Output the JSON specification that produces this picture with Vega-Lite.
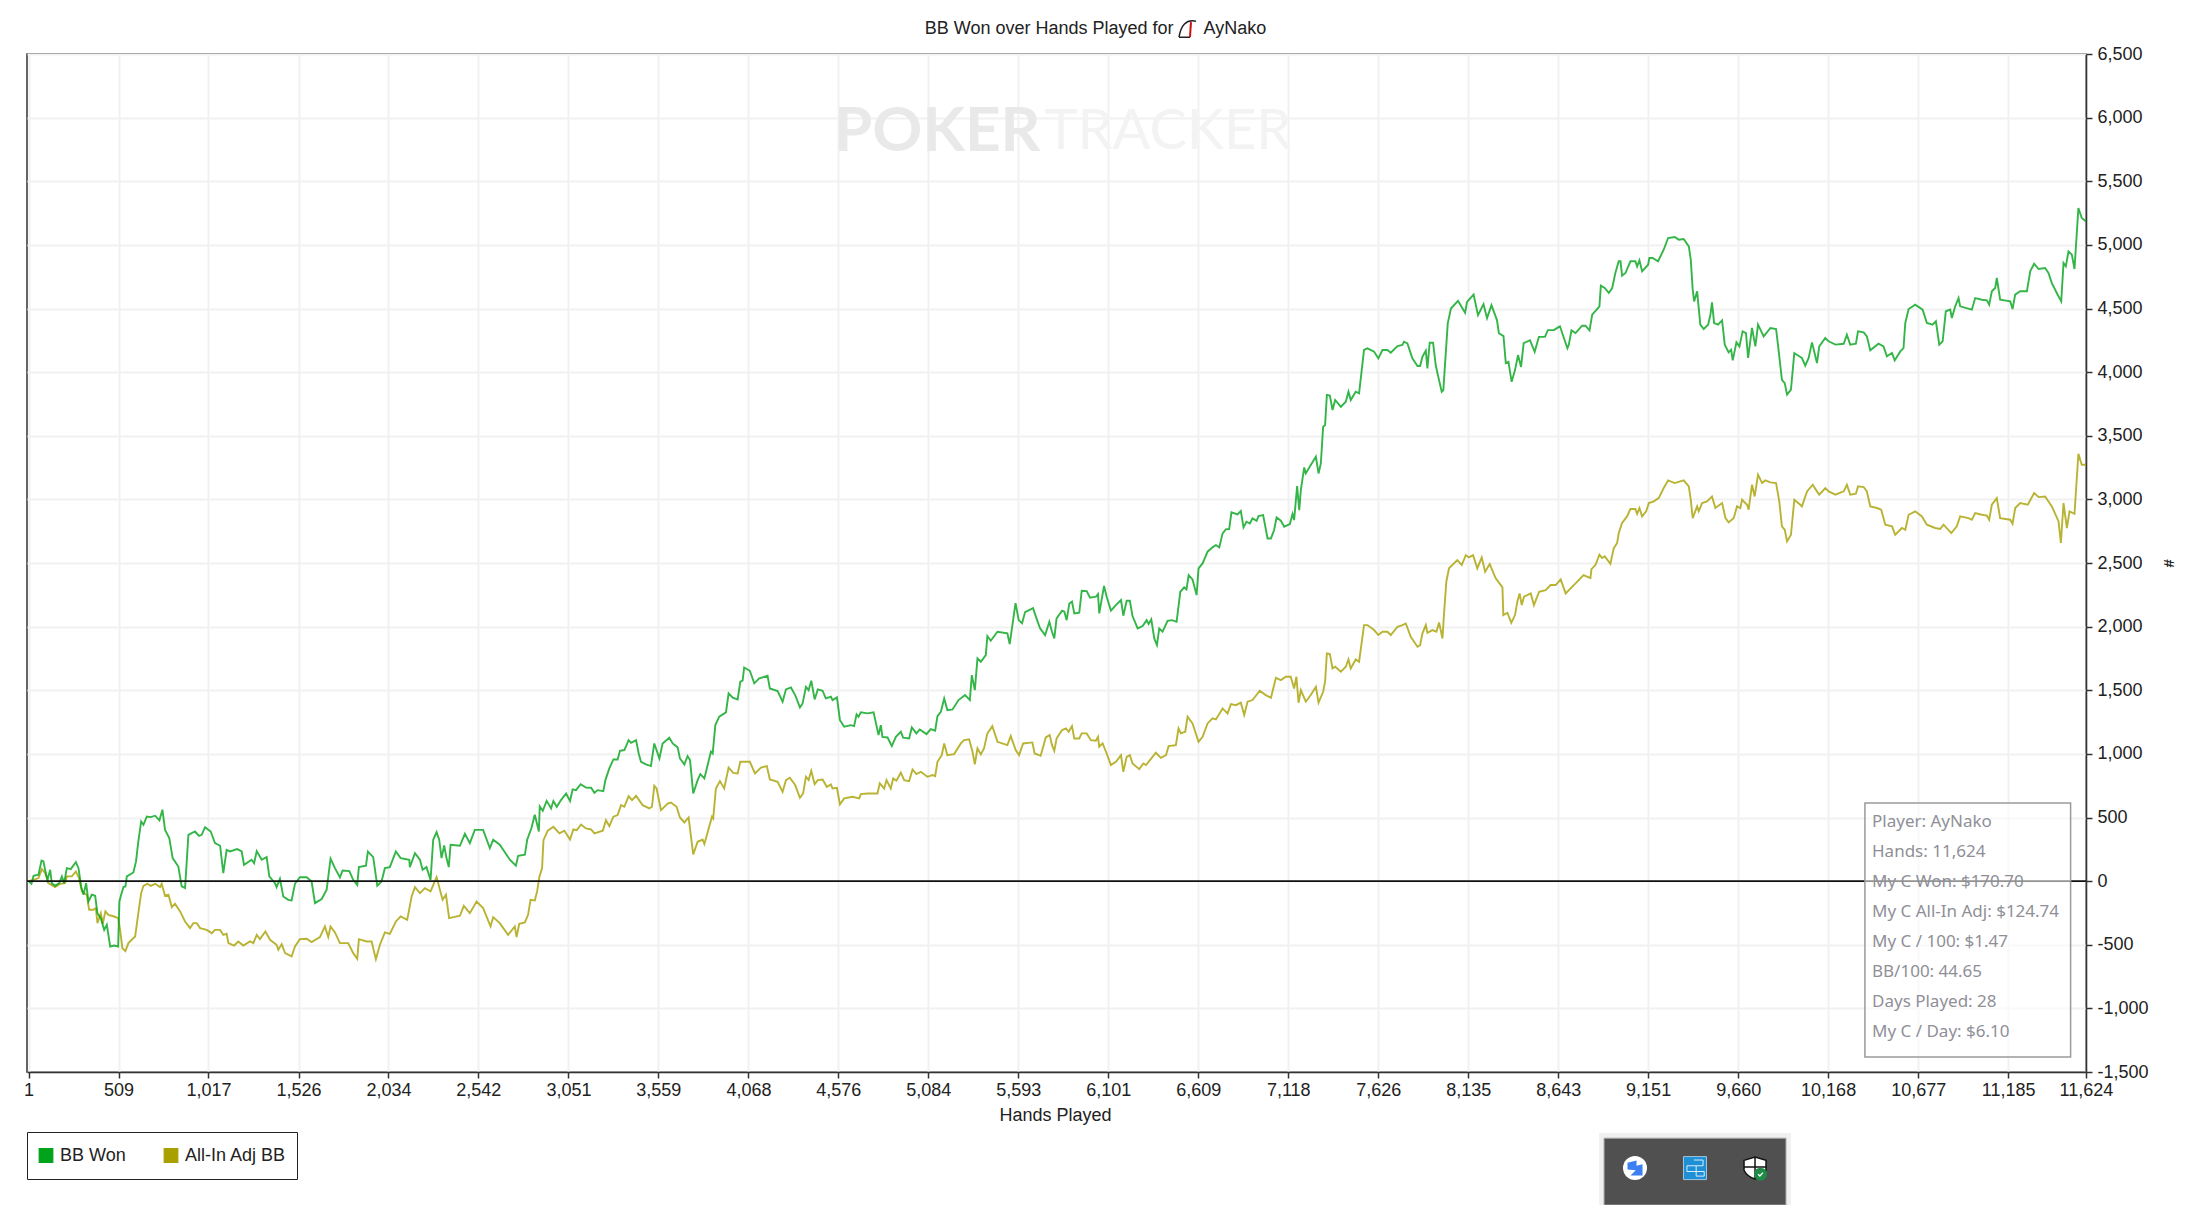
{
  "$schema": "https://vega.github.io/schema/vega-lite/v6.json",
  "description": "PokerTracker graph of BB won over hands played",
  "title": {"text": "BB Won over Hands Played for\u00a0\u00a0\u00a0\u00a0\u00a0\u00a0AyNako", "anchor": "middle", "dx": 39, "offset": -20, "font": "Liberation Sans", "fontSize": 18, "fontWeight": "normal", "color": "#222222"},
  "width": 2059,
  "height": 1018,
  "autosize": "none",
  "padding": {"left": 27, "top": 54, "right": 121, "bottom": 133},
  "background": "white",
  "config": {"view": {"stroke": "#333333", "strokeWidth": 1.5}, "font": "Liberation Sans"},
  "datasets": {
    "bbWon": [
{"hand":1,"bb":0},{"hand":17,"bb":-21},{"hand":29,"bb":42},{"hand":57,"bb":50},{"hand":74,"bb":162},{"hand":85,"bb":155},{"hand":98,"bb":63},{"hand":108,"bb":10},{"hand":123,"bb":89},{"hand":132,"bb":-16},{"hand":151,"bb":-37},{"hand":174,"bb":-16},{"hand":189,"bb":37},{"hand":202,"bb":-16},{"hand":217,"bb":102},{"hand":239,"bb":94},{"hand":268,"bb":149},{"hand":283,"bb":102},{"hand":298,"bb":-42},{"hand":311,"bb":-107},{"hand":326,"bb":-16},{"hand":339,"bb":-160},{"hand":358,"bb":-107},{"hand":377,"bb":-115},{"hand":390,"bb":-252},{"hand":409,"bb":-291},{"hand":428,"bb":-383},{"hand":443,"bb":-343},{"hand":462,"bb":-514},{"hand":484,"bb":-506},{"hand":507,"bb":-514},{"hand":514,"bb":-160},{"hand":524,"bb":-107},{"hand":537,"bb":-47},{"hand":548,"bb":-42},{"hand":556,"bb":37},{"hand":593,"bb":68},{"hand":608,"bb":155},{"hand":621,"bb":312},{"hand":637,"bb":469},{"hand":650,"bb":443},{"hand":669,"bb":508},{"hand":691,"bb":503},{"hand":716,"bb":514},{"hand":740,"bb":477},{"hand":757,"bb":561},{"hand":772,"bb":403},{"hand":796,"bb":338},{"hand":815,"bb":181},{"hand":847,"bb":115},{"hand":866,"bb":-42},{"hand":885,"bb":-55},{"hand":904,"bb":364},{"hand":941,"bb":390},{"hand":964,"bb":356},{"hand":979,"bb":364},{"hand":998,"bb":424},{"hand":1030,"bb":390},{"hand":1054,"bb":299},{"hand":1083,"bb":278},{"hand":1101,"bb":63},{"hand":1120,"bb":246},{"hand":1139,"bb":233},{"hand":1180,"bb":252},{"hand":1205,"bb":233},{"hand":1218,"bb":128},{"hand":1261,"bb":168},{"hand":1275,"bb":141},{"hand":1290,"bb":236},{"hand":1318,"bb":168},{"hand":1346,"bb":189},{"hand":1361,"bb":37},{"hand":1393,"bb":-16},{"hand":1402,"bb":-47},{"hand":1421,"bb":18},{"hand":1440,"bb":-121},{"hand":1468,"bb":-147},{"hand":1487,"bb":-152},{"hand":1506,"bb":-21},{"hand":1534,"bb":31},{"hand":1572,"bb":31},{"hand":1600,"bb":-3},{"hand":1619,"bb":-173},{"hand":1657,"bb":-141},{"hand":1685,"bb":-68},{"hand":1707,"bb":176},{"hand":1732,"bb":102},{"hand":1760,"bb":29},{"hand":1775,"bb":84},{"hand":1813,"bb":79},{"hand":1835,"bb":10},{"hand":1858,"bb":-31},{"hand":1867,"bb":110},{"hand":1907,"bb":121},{"hand":1918,"bb":233},{"hand":1948,"bb":189},{"hand":1971,"bb":-37},{"hand":1995,"bb":-3},{"hand":2014,"bb":102},{"hand":2042,"bb":110},{"hand":2076,"bb":233},{"hand":2103,"bb":181},{"hand":2152,"bb":168},{"hand":2155,"bb":110},{"hand":2184,"bb":220},{"hand":2212,"bb":168},{"hand":2227,"bb":89},{"hand":2249,"bb":110},{"hand":2272,"bb":10},{"hand":2287,"bb":325},{"hand":2306,"bb":385},{"hand":2321,"bb":325},{"hand":2334,"bb":181},{"hand":2349,"bb":280},{"hand":2362,"bb":181},{"hand":2375,"bb":110},{"hand":2385,"bb":286},{"hand":2438,"bb":278},{"hand":2466,"bb":372},{"hand":2494,"bb":299},{"hand":2522,"bb":403},{"hand":2569,"bb":403},{"hand":2607,"bb":259},{"hand":2626,"bb":325},{"hand":2663,"bb":286},{"hand":2720,"bb":168},{"hand":2754,"bb":121},{"hand":2767,"bb":199},{"hand":2805,"bb":207},{"hand":2818,"bb":325},{"hand":2842,"bb":417},{"hand":2861,"bb":521},{"hand":2884,"bb":390},{"hand":2889,"bb":587},{"hand":2906,"bb":553},{"hand":2928,"bb":631},{"hand":2953,"bb":571},{"hand":2966,"bb":629},{"hand":2985,"bb":584},{"hand":3009,"bb":637},{"hand":3038,"bb":689},{"hand":3060,"bb":629},{"hand":3075,"bb":721},{"hand":3094,"bb":715},{"hand":3120,"bb":762},{"hand":3150,"bb":736},{"hand":3179,"bb":734},{"hand":3198,"bb":694},{"hand":3216,"bb":715},{"hand":3248,"bb":707},{"hand":3260,"bb":794},{"hand":3282,"bb":886},{"hand":3305,"bb":956},{"hand":3329,"bb":956},{"hand":3342,"bb":1024},{"hand":3367,"bb":1030},{"hand":3391,"bb":1108},{"hand":3405,"bb":1087},{"hand":3433,"bb":1108},{"hand":3448,"bb":1003},{"hand":3461,"bb":938},{"hand":3489,"bb":917},{"hand":3517,"bb":904},{"hand":3536,"bb":1082},{"hand":3565,"bb":964},{"hand":3583,"bb":1082},{"hand":3621,"bb":1127},{"hand":3640,"bb":1082},{"hand":3668,"bb":1051},{"hand":3681,"bb":964},{"hand":3706,"bb":917},{"hand":3724,"bb":983},{"hand":3738,"bb":951},{"hand":3756,"bb":689},{"hand":3781,"bb":794},{"hand":3796,"bb":841},{"hand":3819,"bb":807},{"hand":3856,"bb":1017},{"hand":3866,"bb":1003},{"hand":3881,"bb":1226},{"hand":3903,"bb":1292},{"hand":3941,"bb":1326},{"hand":3956,"bb":1475},{"hand":3979,"bb":1441},{"hand":4007,"bb":1428},{"hand":4022,"bb":1567},{"hand":4035,"bb":1575},{"hand":4044,"bb":1679},{"hand":4076,"bb":1653},{"hand":4101,"bb":1554},{"hand":4129,"bb":1593},{"hand":4176,"bb":1614},{"hand":4189,"bb":1514},{"hand":4233,"bb":1493},{"hand":4261,"bb":1410},{"hand":4280,"bb":1507},{"hand":4308,"bb":1522},{"hand":4332,"bb":1462},{"hand":4359,"bb":1365},{"hand":4374,"bb":1396},{"hand":4393,"bb":1527},{"hand":4408,"bb":1501},{"hand":4423,"bb":1575},{"hand":4442,"bb":1428},{"hand":4460,"bb":1507},{"hand":4487,"bb":1496},{"hand":4505,"bb":1436},{"hand":4534,"bb":1449},{"hand":4543,"bb":1423},{"hand":4568,"bb":1444},{"hand":4585,"bb":1265},{"hand":4609,"bb":1213},{"hand":4647,"bb":1226},{"hand":4665,"bb":1218},{"hand":4679,"bb":1310},{"hand":4690,"bb":1292},{"hand":4703,"bb":1326},{"hand":4741,"bb":1318},{"hand":4775,"bb":1326},{"hand":4803,"bb":1148},{"hand":4816,"bb":1226},{"hand":4825,"bb":1134},{"hand":4854,"bb":1129},{"hand":4878,"bb":1061},{"hand":4901,"bb":1134},{"hand":4929,"bb":1174},{"hand":4942,"bb":1127},{"hand":4976,"bb":1121},{"hand":4991,"bb":1208},{"hand":5017,"bb":1161},{"hand":5036,"bb":1192},{"hand":5074,"bb":1155},{"hand":5098,"bb":1195},{"hand":5123,"bb":1182},{"hand":5136,"bb":1297},{"hand":5155,"bb":1331},{"hand":5174,"bb":1436},{"hand":5192,"bb":1344},{"hand":5221,"bb":1349},{"hand":5255,"bb":1423},{"hand":5292,"bb":1462},{"hand":5319,"bb":1423},{"hand":5330,"bb":1619},{"hand":5347,"bb":1501},{"hand":5362,"bb":1750},{"hand":5381,"bb":1724},{"hand":5409,"bb":1776},{"hand":5418,"bb":1926},{"hand":5437,"bb":1889},{"hand":5475,"bb":1960},{"hand":5531,"bb":1947},{"hand":5544,"bb":1863},{"hand":5577,"bb":2185},{"hand":5595,"bb":2051},{"hand":5614,"bb":2027},{"hand":5631,"bb":2114},{"hand":5676,"bb":2145},{"hand":5693,"bb":2075},{"hand":5715,"bb":1988},{"hand":5744,"bb":1933},{"hand":5768,"bb":2038},{"hand":5783,"bb":1960},{"hand":5796,"bb":1907},{"hand":5809,"bb":2065},{"hand":5840,"bb":2125},{"hand":5853,"bb":2117},{"hand":5866,"bb":2051},{"hand":5881,"bb":2182},{"hand":5896,"bb":2196},{"hand":5909,"bb":2104},{"hand":5937,"bb":2109},{"hand":5951,"bb":2282},{"hand":5979,"bb":2279},{"hand":5998,"bb":2227},{"hand":6031,"bb":2235},{"hand":6043,"bb":2256},{"hand":6050,"bb":2104},{"hand":6077,"bb":2319},{"hand":6092,"bb":2235},{"hand":6116,"bb":2125},{"hand":6144,"bb":2169},{"hand":6173,"bb":2209},{"hand":6186,"bb":2086},{"hand":6205,"bb":2203},{"hand":6223,"bb":2203},{"hand":6238,"bb":2083},{"hand":6267,"bb":1986},{"hand":6295,"bb":2004},{"hand":6318,"bb":2051},{"hand":6329,"bb":2020},{"hand":6344,"bb":2057},{"hand":6361,"bb":1907},{"hand":6376,"bb":1855},{"hand":6389,"bb":1986},{"hand":6408,"bb":1960},{"hand":6436,"bb":2046},{"hand":6461,"bb":2051},{"hand":6487,"bb":2038},{"hand":6508,"bb":2274},{"hand":6530,"bb":2308},{"hand":6543,"bb":2293},{"hand":6555,"bb":2405},{"hand":6577,"bb":2371},{"hand":6600,"bb":2248},{"hand":6611,"bb":2458},{"hand":6634,"bb":2497},{"hand":6662,"bb":2589},{"hand":6690,"bb":2623},{"hand":6709,"bb":2641},{"hand":6728,"bb":2623},{"hand":6747,"bb":2733},{"hand":6765,"bb":2764},{"hand":6784,"bb":2767},{"hand":6797,"bb":2898},{"hand":6831,"bb":2882},{"hand":6850,"bb":2908},{"hand":6865,"bb":2780},{"hand":6882,"bb":2824},{"hand":6901,"bb":2811},{"hand":6916,"bb":2851},{"hand":6939,"bb":2832},{"hand":6950,"bb":2869},{"hand":6976,"bb":2877},{"hand":7001,"bb":2693},{"hand":7020,"bb":2693},{"hand":7038,"bb":2759},{"hand":7052,"bb":2858},{"hand":7076,"bb":2832},{"hand":7095,"bb":2785},{"hand":7127,"bb":2806},{"hand":7142,"bb":2885},{"hand":7151,"bb":2837},{"hand":7168,"bb":3105},{"hand":7180,"bb":2916},{"hand":7189,"bb":3073},{"hand":7208,"bb":3251},{"hand":7217,"bb":3204},{"hand":7245,"bb":3270},{"hand":7274,"bb":3335},{"hand":7289,"bb":3204},{"hand":7302,"bb":3283},{"hand":7315,"bb":3571},{"hand":7326,"bb":3584},{"hand":7336,"bb":3820},{"hand":7353,"bb":3815},{"hand":7368,"bb":3702},{"hand":7383,"bb":3781},{"hand":7415,"bb":3728},{"hand":7443,"bb":3768},{"hand":7458,"bb":3846},{"hand":7471,"bb":3781},{"hand":7499,"bb":3846},{"hand":7518,"bb":3833},{"hand":7546,"bb":4174},{"hand":7565,"bb":4187},{"hand":7603,"bb":4161},{"hand":7627,"bb":4108},{"hand":7650,"bb":4174},{"hand":7678,"bb":4174},{"hand":7697,"bb":4153},{"hand":7735,"bb":4205},{"hand":7763,"bb":4213},{"hand":7772,"bb":4239},{"hand":7791,"bb":4226},{"hand":7819,"bb":4108},{"hand":7848,"bb":4048},{"hand":7863,"bb":4048},{"hand":7876,"bb":4121},{"hand":7895,"bb":4168},{"hand":7904,"bb":4030},{"hand":7917,"bb":4231},{"hand":7936,"bb":4231},{"hand":7951,"bb":4056},{"hand":7961,"bb":3990},{"hand":7985,"bb":3846},{"hand":7994,"bb":3859},{"hand":8019,"bb":4383},{"hand":8037,"bb":4500},{"hand":8077,"bb":4560},{"hand":8117,"bb":4466},{"hand":8128,"bb":4552},{"hand":8165,"bb":4610},{"hand":8190,"bb":4448},{"hand":8221,"bb":4534},{"hand":8241,"bb":4424},{"hand":8266,"bb":4526},{"hand":8297,"bb":4409},{"hand":8308,"bb":4306},{"hand":8334,"bb":4283},{"hand":8347,"bb":4071},{"hand":8362,"bb":4081},{"hand":8380,"bb":3924},{"hand":8399,"bb":4016},{"hand":8416,"bb":4134},{"hand":8433,"bb":4041},{"hand":8448,"bb":4228},{"hand":8484,"bb":4251},{"hand":8510,"bb":4160},{"hand":8534,"bb":4277},{"hand":8568,"bb":4277},{"hand":8585,"bb":4330},{"hand":8619,"bb":4331},{"hand":8640,"bb":4350},{"hand":8653,"bb":4360},{"hand":8666,"bb":4305},{"hand":8695,"bb":4187},{"hand":8703,"bb":4216},{"hand":8718,"bb":4328},{"hand":8741,"bb":4307},{"hand":8778,"bb":4365},{"hand":8797,"bb":4365},{"hand":8820,"bb":4328},{"hand":8835,"bb":4451},{"hand":8863,"bb":4496},{"hand":8876,"bb":4517},{"hand":8884,"bb":4679},{"hand":8906,"bb":4661},{"hand":8929,"bb":4622},{"hand":8948,"bb":4661},{"hand":8966,"bb":4779},{"hand":8985,"bb":4871},{"hand":8995,"bb":4871},{"hand":9004,"bb":4758},{"hand":9023,"bb":4779},{"hand":9051,"bb":4871},{"hand":9079,"bb":4871},{"hand":9089,"bb":4831},{"hand":9102,"bb":4878},{"hand":9117,"bb":4792},{"hand":9151,"bb":4844},{"hand":9158,"bb":4897},{"hand":9177,"bb":4897},{"hand":9207,"bb":4871},{"hand":9239,"bb":4962},{"hand":9264,"bb":5054},{"hand":9301,"bb":5062},{"hand":9324,"bb":5041},{"hand":9352,"bb":5046},{"hand":9381,"bb":4988},{"hand":9392,"bb":4884},{"hand":9403,"bb":4648},{"hand":9411,"bb":4556},{"hand":9428,"bb":4635},{"hand":9446,"bb":4373},{"hand":9465,"bb":4339},{"hand":9490,"bb":4373},{"hand":9503,"bb":4451},{"hand":9512,"bb":4548},{"hand":9524,"bb":4386},{"hand":9546,"bb":4373},{"hand":9569,"bb":4407},{"hand":9584,"bb":4216},{"hand":9606,"bb":4155},{"hand":9620,"bb":4176},{"hand":9629,"bb":4092},{"hand":9650,"bb":4234},{"hand":9667,"bb":4202},{"hand":9685,"bb":4320},{"hand":9704,"bb":4307},{"hand":9716,"bb":4111},{"hand":9738,"bb":4347},{"hand":9757,"bb":4202},{"hand":9772,"bb":4373},{"hand":9804,"bb":4281},{"hand":9842,"bb":4347},{"hand":9874,"bb":4339},{"hand":9889,"bb":4163},{"hand":9907,"bb":3940},{"hand":9923,"bb":3914},{"hand":9936,"bb":3823},{"hand":9958,"bb":3862},{"hand":9977,"bb":4150},{"hand":10011,"bb":4119},{"hand":10020,"bb":4111},{"hand":10039,"bb":4051},{"hand":10058,"bb":4111},{"hand":10077,"bb":4234},{"hand":10105,"bb":4071},{"hand":10118,"bb":4202},{"hand":10152,"bb":4268},{"hand":10171,"bb":4242},{"hand":10209,"bb":4216},{"hand":10256,"bb":4223},{"hand":10274,"bb":4294},{"hand":10293,"bb":4216},{"hand":10325,"bb":4223},{"hand":10337,"bb":4320},{"hand":10369,"bb":4313},{"hand":10387,"bb":4281},{"hand":10406,"bb":4171},{"hand":10453,"bb":4223},{"hand":10481,"bb":4202},{"hand":10500,"bb":4124},{"hand":10529,"bb":4150},{"hand":10544,"bb":4092},{"hand":10576,"bb":4163},{"hand":10594,"bb":4189},{"hand":10604,"bb":4386},{"hand":10623,"bb":4496},{"hand":10660,"bb":4530},{"hand":10702,"bb":4491},{"hand":10726,"bb":4386},{"hand":10758,"bb":4373},{"hand":10777,"bb":4399},{"hand":10796,"bb":4216},{"hand":10815,"bb":4242},{"hand":10833,"bb":4478},{"hand":10858,"bb":4491},{"hand":10867,"bb":4425},{"hand":10886,"bb":4517},{"hand":10905,"bb":4582},{"hand":10914,"bb":4517},{"hand":10980,"bb":4491},{"hand":10999,"bb":4582},{"hand":11037,"bb":4569},{"hand":11065,"bb":4564},{"hand":11078,"bb":4530},{"hand":11093,"bb":4635},{"hand":11112,"bb":4661},{"hand":11121,"bb":4740},{"hand":11140,"bb":4569},{"hand":11197,"bb":4556},{"hand":11210,"bb":4496},{"hand":11225,"bb":4609},{"hand":11253,"bb":4635},{"hand":11291,"bb":4635},{"hand":11310,"bb":4792},{"hand":11332,"bb":4852},{"hand":11357,"bb":4810},{"hand":11394,"bb":4818},{"hand":11413,"bb":4779},{"hand":11432,"bb":4700},{"hand":11460,"bb":4622},{"hand":11485,"bb":4556},{"hand":11498,"bb":4857},{"hand":11511,"bb":4831},{"hand":11526,"bb":4949},{"hand":11545,"bb":4923},{"hand":11560,"bb":4810},{"hand":11582,"bb":5290},{"hand":11601,"bb":5211},{"hand":11624,"bb":5185}
    ],
    "allInAdj": [
{"hand":1,"bb":0},{"hand":29,"bb":10},{"hand":57,"bb":24},{"hand":76,"bb":94},{"hand":95,"bb":63},{"hand":113,"bb":-16},{"hand":151,"bb":-47},{"hand":179,"bb":-21},{"hand":207,"bb":-16},{"hand":217,"bb":37},{"hand":245,"bb":37},{"hand":268,"bb":76},{"hand":286,"bb":24},{"hand":302,"bb":-81},{"hand":330,"bb":-107},{"hand":343,"bb":-225},{"hand":367,"bb":-225},{"hand":381,"bb":-212},{"hand":390,"bb":-330},{"hand":409,"bb":-252},{"hand":420,"bb":-335},{"hand":435,"bb":-238},{"hand":452,"bb":-265},{"hand":484,"bb":-278},{"hand":507,"bb":-291},{"hand":518,"bb":-383},{"hand":531,"bb":-527},{"hand":548,"bb":-550},{"hand":565,"bb":-487},{"hand":603,"bb":-435},{"hand":621,"bb":-252},{"hand":637,"bb":-94},{"hand":650,"bb":-37},{"hand":672,"bb":-21},{"hand":691,"bb":-37},{"hand":716,"bb":-21},{"hand":744,"bb":-47},{"hand":753,"bb":-21},{"hand":772,"bb":-115},{"hand":791,"bb":-107},{"hand":810,"bb":-204},{"hand":828,"bb":-178},{"hand":857,"bb":-238},{"hand":885,"bb":-317},{"hand":913,"bb":-369},{"hand":932,"bb":-330},{"hand":951,"bb":-330},{"hand":970,"bb":-369},{"hand":1007,"bb":-383},{"hand":1036,"bb":-409},{"hand":1054,"bb":-383},{"hand":1083,"bb":-383},{"hand":1101,"bb":-422},{"hand":1120,"bb":-414},{"hand":1130,"bb":-487},{"hand":1162,"bb":-506},{"hand":1186,"bb":-474},{"hand":1214,"bb":-506},{"hand":1252,"bb":-474},{"hand":1271,"bb":-487},{"hand":1290,"bb":-422},{"hand":1308,"bb":-456},{"hand":1339,"bb":-396},{"hand":1365,"bb":-461},{"hand":1402,"bb":-500},{"hand":1412,"bb":-540},{"hand":1431,"bb":-495},{"hand":1450,"bb":-566},{"hand":1487,"bb":-592},{"hand":1506,"bb":-514},{"hand":1534,"bb":-456},{"hand":1572,"bb":-453},{"hand":1600,"bb":-479},{"hand":1647,"bb":-440},{"hand":1675,"bb":-356},{"hand":1694,"bb":-440},{"hand":1707,"bb":-356},{"hand":1732,"bb":-403},{"hand":1760,"bb":-487},{"hand":1807,"bb":-487},{"hand":1835,"bb":-566},{"hand":1858,"bb":-610},{"hand":1867,"bb":-456},{"hand":1911,"bb":-474},{"hand":1939,"bb":-474},{"hand":1963,"bb":-613},{"hand":1986,"bb":-500},{"hand":2014,"bb":-403},{"hand":2042,"bb":-414},{"hand":2076,"bb":-317},{"hand":2103,"bb":-278},{"hand":2140,"bb":-304},{"hand":2165,"bb":-121},{"hand":2184,"bb":-47},{"hand":2212,"bb":-94},{"hand":2240,"bb":-55},{"hand":2272,"bb":-81},{"hand":2306,"bb":31},{"hand":2340,"bb":-147},{"hand":2359,"bb":-107},{"hand":2377,"bb":-291},{"hand":2438,"bb":-272},{"hand":2460,"bb":-194},{"hand":2494,"bb":-252},{"hand":2532,"bb":-160},{"hand":2569,"bb":-212},{"hand":2611,"bb":-356},{"hand":2626,"bb":-283},{"hand":2663,"bb":-330},{"hand":2710,"bb":-422},{"hand":2748,"bb":-356},{"hand":2758,"bb":-440},{"hand":2773,"bb":-335},{"hand":2805,"bb":-325},{"hand":2823,"bb":-265},{"hand":2837,"bb":-147},{"hand":2861,"bb":-152},{"hand":2874,"bb":-81},{"hand":2887,"bb":34},{"hand":2902,"bb":100},{"hand":2910,"bb":322},{"hand":2934,"bb":396},{"hand":2966,"bb":427},{"hand":3000,"bb":375},{"hand":3028,"bb":396},{"hand":3060,"bb":327},{"hand":3079,"bb":406},{"hand":3098,"bb":401},{"hand":3122,"bb":445},{"hand":3150,"bb":414},{"hand":3179,"bb":406},{"hand":3198,"bb":375},{"hand":3245,"bb":396},{"hand":3263,"bb":479},{"hand":3282,"bb":432},{"hand":3305,"bb":506},{"hand":3329,"bb":519},{"hand":3348,"bb":597},{"hand":3367,"bb":584},{"hand":3391,"bb":668},{"hand":3410,"bb":637},{"hand":3433,"bb":671},{"hand":3470,"bb":597},{"hand":3508,"bb":571},{"hand":3523,"bb":584},{"hand":3536,"bb":749},{"hand":3549,"bb":728},{"hand":3574,"bb":558},{"hand":3612,"bb":610},{"hand":3630,"bb":618},{"hand":3662,"bb":584},{"hand":3681,"bb":500},{"hand":3706,"bb":461},{"hand":3730,"bb":500},{"hand":3756,"bb":210},{"hand":3781,"bb":309},{"hand":3809,"bb":327},{"hand":3819,"bb":291},{"hand":3862,"bb":506},{"hand":3869,"bb":493},{"hand":3884,"bb":728},{"hand":3907,"bb":786},{"hand":3931,"bb":728},{"hand":3956,"bb":893},{"hand":3982,"bb":851},{"hand":4007,"bb":846},{"hand":4022,"bb":938},{"hand":4054,"bb":938},{"hand":4076,"bb":938},{"hand":4105,"bb":846},{"hand":4139,"bb":893},{"hand":4172,"bb":904},{"hand":4189,"bb":799},{"hand":4233,"bb":781},{"hand":4261,"bb":702},{"hand":4280,"bb":794},{"hand":4302,"bb":812},{"hand":4332,"bb":755},{"hand":4359,"bb":655},{"hand":4377,"bb":689},{"hand":4393,"bb":820},{"hand":4408,"bb":794},{"hand":4423,"bb":867},{"hand":4442,"bb":762},{"hand":4460,"bb":794},{"hand":4487,"bb":799},{"hand":4511,"bb":741},{"hand":4534,"bb":760},{"hand":4543,"bb":728},{"hand":4568,"bb":734},{"hand":4585,"bb":603},{"hand":4609,"bb":650},{"hand":4656,"bb":663},{"hand":4694,"bb":650},{"hand":4703,"bb":684},{"hand":4741,"bb":689},{"hand":4797,"bb":689},{"hand":4810,"bb":768},{"hand":4835,"bb":728},{"hand":4848,"bb":794},{"hand":4872,"bb":728},{"hand":4886,"bb":807},{"hand":4904,"bb":789},{"hand":4929,"bb":852},{"hand":4948,"bb":794},{"hand":4976,"bb":786},{"hand":4995,"bb":878},{"hand":5017,"bb":841},{"hand":5042,"bb":859},{"hand":5079,"bb":820},{"hand":5108,"bb":833},{"hand":5123,"bb":825},{"hand":5136,"bb":938},{"hand":5160,"bb":990},{"hand":5174,"bb":1082},{"hand":5192,"bb":990},{"hand":5230,"bb":998},{"hand":5268,"bb":1082},{"hand":5287,"bb":1108},{"hand":5315,"bb":1114},{"hand":5334,"bb":1017},{"hand":5347,"bb":917},{"hand":5362,"bb":1043},{"hand":5381,"bb":996},{"hand":5399,"bb":1043},{"hand":5418,"bb":1161},{"hand":5446,"bb":1218},{"hand":5475,"bb":1095},{"hand":5531,"bb":1069},{"hand":5550,"bb":1140},{"hand":5578,"bb":1030},{"hand":5597,"bb":990},{"hand":5620,"bb":1082},{"hand":5672,"bb":1090},{"hand":5685,"bb":1003},{"hand":5719,"bb":985},{"hand":5748,"bb":1129},{"hand":5770,"bb":1148},{"hand":5783,"bb":1069},{"hand":5796,"bb":1024},{"hand":5809,"bb":1121},{"hand":5840,"bb":1187},{"hand":5862,"bb":1200},{"hand":5877,"bb":1174},{"hand":5896,"bb":1218},{"hand":5909,"bb":1121},{"hand":5937,"bb":1121},{"hand":5951,"bb":1161},{"hand":5979,"bb":1161},{"hand":6003,"bb":1108},{"hand":6031,"bb":1103},{"hand":6043,"bb":1134},{"hand":6050,"bb":1056},{"hand":6069,"bb":1082},{"hand":6092,"bb":1003},{"hand":6116,"bb":912},{"hand":6144,"bb":938},{"hand":6173,"bb":990},{"hand":6186,"bb":859},{"hand":6205,"bb":977},{"hand":6223,"bb":990},{"hand":6238,"bb":925},{"hand":6276,"bb":880},{"hand":6299,"bb":925},{"hand":6314,"bb":912},{"hand":6370,"bb":1009},{"hand":6398,"bb":969},{"hand":6427,"bb":990},{"hand":6442,"bb":1061},{"hand":6483,"bb":1069},{"hand":6498,"bb":1200},{"hand":6511,"bb":1161},{"hand":6536,"bb":1174},{"hand":6549,"bb":1292},{"hand":6577,"bb":1239},{"hand":6611,"bb":1095},{"hand":6634,"bb":1134},{"hand":6662,"bb":1239},{"hand":6690,"bb":1279},{"hand":6709,"bb":1271},{"hand":6747,"bb":1357},{"hand":6775,"bb":1318},{"hand":6794,"bb":1391},{"hand":6822,"bb":1383},{"hand":6850,"bb":1402},{"hand":6869,"bb":1305},{"hand":6888,"bb":1410},{"hand":6916,"bb":1423},{"hand":6957,"bb":1496},{"hand":6991,"bb":1462},{"hand":7020,"bb":1441},{"hand":7048,"bb":1598},{"hand":7076,"bb":1580},{"hand":7104,"bb":1606},{"hand":7132,"bb":1606},{"hand":7151,"bb":1514},{"hand":7164,"bb":1606},{"hand":7176,"bb":1402},{"hand":7189,"bb":1501},{"hand":7217,"bb":1410},{"hand":7245,"bb":1462},{"hand":7274,"bb":1527},{"hand":7289,"bb":1402},{"hand":7315,"bb":1488},{"hand":7326,"bb":1567},{"hand":7336,"bb":1789},{"hand":7353,"bb":1784},{"hand":7368,"bb":1672},{"hand":7383,"bb":1685},{"hand":7415,"bb":1645},{"hand":7443,"bb":1685},{"hand":7458,"bb":1742},{"hand":7471,"bb":1672},{"hand":7499,"bb":1742},{"hand":7518,"bb":1724},{"hand":7546,"bb":2012},{"hand":7565,"bb":2012},{"hand":7603,"bb":1973},{"hand":7627,"bb":1934},{"hand":7650,"bb":1960},{"hand":7678,"bb":1960},{"hand":7697,"bb":1934},{"hand":7735,"bb":1999},{"hand":7763,"bb":2012},{"hand":7782,"bb":2025},{"hand":7810,"bb":1920},{"hand":7848,"bb":1842},{"hand":7863,"bb":1855},{"hand":7876,"bb":1947},{"hand":7895,"bb":2012},{"hand":7904,"bb":1952},{"hand":7932,"bb":1973},{"hand":7955,"bb":1960},{"hand":7970,"bb":2033},{"hand":7989,"bb":1907},{"hand":7998,"bb":2104},{"hand":8011,"bb":2353},{"hand":8026,"bb":2458},{"hand":8073,"bb":2523},{"hand":8098,"bb":2484},{"hand":8121,"bb":2562},{"hand":8139,"bb":2544},{"hand":8162,"bb":2562},{"hand":8186,"bb":2458},{"hand":8211,"bb":2544},{"hand":8230,"bb":2431},{"hand":8256,"bb":2492},{"hand":8290,"bb":2379},{"hand":8328,"bb":2308},{"hand":8333,"bb":2091},{"hand":8356,"bb":2109},{"hand":8378,"bb":2030},{"hand":8399,"bb":2091},{"hand":8412,"bb":2196},{"hand":8425,"bb":2261},{"hand":8437,"bb":2169},{"hand":8450,"bb":2235},{"hand":8488,"bb":2261},{"hand":8506,"bb":2169},{"hand":8535,"bb":2274},{"hand":8572,"bb":2287},{"hand":8600,"bb":2327},{"hand":8629,"bb":2327},{"hand":8657,"bb":2371},{"hand":8685,"bb":2261},{"hand":8741,"bb":2340},{"hand":8786,"bb":2405},{"hand":8825,"bb":2381},{"hand":8831,"bb":2452},{"hand":8854,"bb":2486},{"hand":8876,"bb":2565},{"hand":8891,"bb":2539},{"hand":8906,"bb":2552},{"hand":8938,"bb":2494},{"hand":8957,"bb":2617},{"hand":8976,"bb":2657},{"hand":8985,"bb":2735},{"hand":9004,"bb":2814},{"hand":9032,"bb":2866},{"hand":9051,"bb":2924},{"hand":9079,"bb":2924},{"hand":9089,"bb":2887},{"hand":9102,"bb":2932},{"hand":9117,"bb":2866},{"hand":9140,"bb":2906},{"hand":9155,"bb":2971},{"hand":9183,"bb":2984},{"hand":9211,"bb":3010},{"hand":9239,"bb":3089},{"hand":9264,"bb":3149},{"hand":9301,"bb":3128},{"hand":9352,"bb":3149},{"hand":9381,"bb":3102},{"hand":9392,"bb":2997},{"hand":9403,"bb":2853},{"hand":9428,"bb":2945},{"hand":9437,"bb":2906},{"hand":9456,"bb":2971},{"hand":9484,"bb":2984},{"hand":9512,"bb":3023},{"hand":9531,"bb":2932},{"hand":9569,"bb":2971},{"hand":9588,"bb":2853},{"hand":9606,"bb":2819},{"hand":9635,"bb":2853},{"hand":9653,"bb":2945},{"hand":9672,"bb":2932},{"hand":9682,"bb":2997},{"hand":9710,"bb":2958},{"hand":9719,"bb":2919},{"hand":9738,"bb":3115},{"hand":9753,"bb":3023},{"hand":9772,"bb":3194},{"hand":9795,"bb":3128},{"hand":9813,"bb":3149},{"hand":9842,"bb":3134},{"hand":9874,"bb":3128},{"hand":9892,"bb":2984},{"hand":9907,"bb":2788},{"hand":9923,"bb":2761},{"hand":9936,"bb":2670},{"hand":9958,"bb":2722},{"hand":9977,"bb":2997},{"hand":10011,"bb":2958},{"hand":10020,"bb":2945},{"hand":10049,"bb":3063},{"hand":10081,"bb":3115},{"hand":10105,"bb":3063},{"hand":10118,"bb":3037},{"hand":10152,"bb":3089},{"hand":10171,"bb":3063},{"hand":10209,"bb":3037},{"hand":10256,"bb":3063},{"hand":10274,"bb":3115},{"hand":10293,"bb":3037},{"hand":10325,"bb":3044},{"hand":10337,"bb":3102},{"hand":10369,"bb":3097},{"hand":10387,"bb":3063},{"hand":10406,"bb":2945},{"hand":10444,"bb":2932},{"hand":10468,"bb":2919},{"hand":10491,"bb":2801},{"hand":10529,"bb":2788},{"hand":10547,"bb":2722},{"hand":10585,"bb":2775},{"hand":10604,"bb":2761},{"hand":10623,"bb":2879},{"hand":10660,"bb":2906},{"hand":10698,"bb":2866},{"hand":10726,"bb":2801},{"hand":10773,"bb":2775},{"hand":10801,"bb":2767},{"hand":10820,"bb":2801},{"hand":10864,"bb":2735},{"hand":10895,"bb":2788},{"hand":10914,"bb":2866},{"hand":10961,"bb":2853},{"hand":10980,"bb":2840},{"hand":10999,"bb":2892},{"hand":11037,"bb":2879},{"hand":11065,"bb":2872},{"hand":11078,"bb":2840},{"hand":11093,"bb":2958},{"hand":11121,"bb":3010},{"hand":11140,"bb":2853},{"hand":11197,"bb":2840},{"hand":11210,"bb":2809},{"hand":11225,"bb":2932},{"hand":11253,"bb":2971},{"hand":11296,"bb":2958},{"hand":11332,"bb":3050},{"hand":11357,"bb":3018},{"hand":11394,"bb":3023},{"hand":11432,"bb":2945},{"hand":11470,"bb":2827},{"hand":11483,"bb":2657},{"hand":11498,"bb":2971},{"hand":11517,"bb":2775},{"hand":11532,"bb":2906},{"hand":11560,"bb":2887},{"hand":11582,"bb":3359},{"hand":11601,"bb":3272},{"hand":11624,"bb":3272}
    ]
  },
  "encoding": {
    "x": {
      "field": "hand",
      "type": "quantitative",
      "title": "Hands Played",
      "scale": {"domain": [-8, 11625], "nice": false, "zero": false},
      "axis": {
        "values": [1, 509, 1017, 1526, 2034, 2542, 3051, 3559, 4068, 4576, 5084, 5593, 6101, 6609, 7118, 7626, 8135, 8643, 9151, 9660, 10168, 10677, 11185, 11624],
        "format": ",d",
        "labelOverlap": false,
        "labelFlush": false,
        "grid": true,
        "gridColor": "#f1f1f1",
        "gridWidth": 2,
        "domainColor": "#333333",
        "domainWidth": 1.5,
        "tickColor": "#333333",
        "tickWidth": 1.5,
        "tickSize": 6,
        "labelFont": "Liberation Sans",
        "labelFontSize": 18,
        "labelColor": "#222222",
        "labelPadding": 3,
        "titleFont": "Liberation Sans",
        "titleFontSize": 18,
        "titleFontWeight": "normal",
        "titleColor": "#222222",
        "titlePadding": 7,
        "titleX": 1028
      }
    },
    "y": {
      "field": "bb",
      "type": "quantitative",
      "title": "#",
      "scale": {"domain": [-1500, 6500], "nice": false, "zero": false},
      "axis": {
        "orient": "right",
        "values": [-1500, -1000, -500, 0, 500, 1000, 1500, 2000, 2500, 3000, 3500, 4000, 4500, 5000, 5500, 6000, 6500],
        "labelExpr": "replace(format(datum.value, ',d'), '−', '-')",
        "labelOverlap": false,
        "labelFlush": false,
        "grid": true,
        "gridColor": "#f1f1f1",
        "gridWidth": 2,
        "domainColor": "#333333",
        "domainWidth": 1.5,
        "tickColor": "#333333",
        "tickWidth": 1.5,
        "tickSize": 6,
        "labelFont": "Liberation Sans",
        "labelFontSize": 18,
        "labelColor": "#222222",
        "labelPadding": 5,
        "titleFont": "Liberation Sans",
        "titleFontSize": 15,
        "titleFontWeight": "bold",
        "titleColor": "#222222",
        "titlePadding": 12
      }
    }
  },
  "layer": [
    {
      "data": {"values": [{"word": "POKER", "hand": 4551, "bb": 5885}]},
      "mark": {"type": "text", "align": "left", "baseline": "middle", "font": "Lato", "fontWeight": "bold", "fontSize": 62, "color": "#e9e9e9"},
      "encoding": {"text": {"field": "word"}}
    },
    {
      "data": {"values": [{"word": "TRACKER", "hand": 5740, "bb": 5885}]},
      "mark": {"type": "text", "align": "left", "baseline": "middle", "font": "Lato", "fontSize": 56, "color": "#f3f3f3"},
      "encoding": {"text": {"field": "word"}}
    },
    {
      "data": {"name": "allInAdj"},
      "mark": {"type": "line", "strokeWidth": 1.9, "opacity": 0.8},
      "encoding": {"color": {"datum": "All-In Adj BB"}}
    },
    {
      "data": {"name": "bbWon"},
      "mark": {"type": "line", "strokeWidth": 1.9, "opacity": 0.8},
      "encoding": {
        "color": {
          "datum": "BB Won",
          "type": "nominal",
          "scale": {"domain": ["BB Won", "All-In Adj BB"], "range": ["#00a31a", "#a8a000"]},
          "legend": {
            "title": null,
            "orient": "none",
            "legendX": 0,
            "legendY": 1078,
            "direction": "horizontal",
            "symbolType": "square",
            "symbolSize": 185,
            "symbolOpacity": 1,
            "labelFont": "Liberation Sans",
            "labelFontSize": 18,
            "labelColor": "#222222",
            "labelOffset": 5,
            "columnPadding": 36,
            "clipHeight": 27,
            "padding": 10,
            "strokeColor": "#222222",
            "fillColor": "white",
            "encode": {"symbols": {"update": {"fill": {"scale": "color", "field": "value"}, "stroke": {"value": "#222222"}, "strokeWidth": {"value": 1.2}, "opacity": {"value": 1}}}}
          }
        }
      }
    },
    {
      "data": {"values": [{"hand": -8, "bb": 0}, {"hand": 11625, "bb": 0}]},
      "mark": {"type": "line", "color": "#111111", "strokeWidth": 1.6},
      "encoding": {}
    },
    {
      "data": {"values": [{"hand": 10376, "end": 11538, "bb": 613, "bottom": -1383}]},
      "mark": {"type": "rect", "fill": "white", "fillOpacity": 0.55, "stroke": "#9a9a9a", "strokeWidth": 1.5},
      "encoding": {
        "x2": {"field": "end"},
        "y2": {"field": "bottom"}
      }
    },
    {
      "data": {"values": [
        {"line": "Player: AyNako", "hand": 10416, "bb": 461},
        {"line": "Hands: 11,624", "hand": 10416, "bb": 230},
        {"line": "My C Won: $170.70", "hand": 10416, "bb": -5},
        {"line": "My C All-In Adj: $124.74", "hand": 10416, "bb": -246},
        {"line": "My C / 100: $1.47", "hand": 10416, "bb": -477},
        {"line": "BB/100: 44.65", "hand": 10416, "bb": -713},
        {"line": "Days Played: 28", "hand": 10416, "bb": -949},
        {"line": "My C / Day: $6.10", "hand": 10416, "bb": -1184}
      ]},
      "mark": {"type": "text", "align": "left", "baseline": "middle", "font": "Noto Sans", "fontSize": 17, "color": "#8f8f97"},
      "encoding": {"text": {"field": "line"}}
    },
    {
      "data": {"values": [{"hand": 8874, "end": 9958, "bb": -1980, "bottom": -2546}]},
      "mark": {"type": "rect", "fill": "#000000", "fillOpacity": 0.06},
      "encoding": {
        "x2": {"field": "end"},
        "y2": {"field": "bottom"}
      }
    },
    {
      "data": {"values": [{"hand": 8902, "end": 9930, "bb": -2020, "bottom": -2546}]},
      "mark": {"type": "rect", "fill": "#505050", "stroke": "#aaaaaa", "strokeWidth": 1},
      "encoding": {
        "x2": {"field": "end"},
        "y2": {"field": "bottom"}
      }
    },
    {
      "data": {"values": [{"hand": 9077, "bb": -2255}]},
      "mark": {"type": "point", "shape": "circle", "filled": true, "size": 576, "color": "white", "opacity": 1},
      "encoding": {}
    },
    {
      "data": {"values": [{"hand": 9077, "bb": -2255}]},
      "mark": {"type": "point", "shape": "M-1,-0.7 L0.2,-1 L0.2,-0.3 L1,-0.5 L1,1 L-0.6,1 L0.1,0.3 L-1,0.2 Z", "filled": true, "size": 225, "color": "#3b7ff0", "opacity": 1},
      "encoding": {}
    },
    {
      "data": {"values": [{"hand": 9416, "bb": -2255}]},
      "mark": {"type": "point", "shape": "square", "filled": true, "size": 529, "color": "#1f8fd6", "stroke": "#9fc4dc", "strokeWidth": 1, "opacity": 1},
      "encoding": {}
    },
    {
      "data": {"values": [{"hand": 9416, "bb": -2255}]},
      "mark": {"type": "point", "shape": "M-0.7,-0.2 L0.1,-0.2 L0.1,0.3 L-0.7,0.3 Z M-0.1,-0.7 L0.7,-0.7 L0.7,-0.2 L0.1,-0.2 M0.1,0.3 L0.8,0.3 L0.8,0.7 L0.1,0.7 Z", "filled": false, "size": 529, "color": "#d5eefa", "strokeWidth": 1, "opacity": 1},
      "encoding": {}
    },
    {
      "data": {"values": [{"hand": 9755, "bb": -2255}]},
      "mark": {"type": "point", "shape": "M-1,-0.7 L0,-1 L1,-0.7 L1,0.2 Q0.7,0.8 0,1 Q-0.7,0.8 -1,0.2 Z", "filled": true, "size": 484, "color": "white", "stroke": "#111111", "strokeWidth": 1.5, "opacity": 1},
      "encoding": {}
    },
    {
      "data": {"values": [{"hand": 9755, "bb": -2255}]},
      "mark": {"type": "point", "shape": "M0,-1 L0,1 M-1,-0.1 L1,-0.1", "filled": false, "size": 484, "color": "#111111", "strokeWidth": 1.5, "opacity": 1},
      "encoding": {}
    },
    {
      "data": {"values": [{"hand": 9786, "bb": -2303}]},
      "mark": {"type": "point", "shape": "circle", "filled": true, "size": 169, "color": "#1e8c46", "opacity": 1},
      "encoding": {}
    },
    {
      "data": {"values": [{"hand": 9786, "bb": -2303}]},
      "mark": {"type": "point", "shape": "M-0.6,0 L-0.15,0.45 L0.6,-0.4", "filled": false, "size": 64, "color": "white", "strokeWidth": 1.3, "opacity": 1},
      "encoding": {}
    },
    {
      "data": {"values": [{"hand": 6557, "bb": 6703}]},
      "mark": {"type": "point", "shape": "M-1,0.9 C-0.8,-0.3 -0.3,-0.9 0.7,-0.7 M-1,0.9 L0.1,0.9", "filled": false, "size": 400, "color": "#222222", "strokeWidth": 1.5, "opacity": 1},
      "encoding": {}
    },
    {
      "data": {"values": [{"hand": 6557, "bb": 6703}]},
      "mark": {"type": "point", "shape": "M0.2,-0.6 L0.1,0.9", "filled": false, "size": 400, "color": "#d01010", "strokeWidth": 2, "opacity": 1},
      "encoding": {}
    }
  ]
}
